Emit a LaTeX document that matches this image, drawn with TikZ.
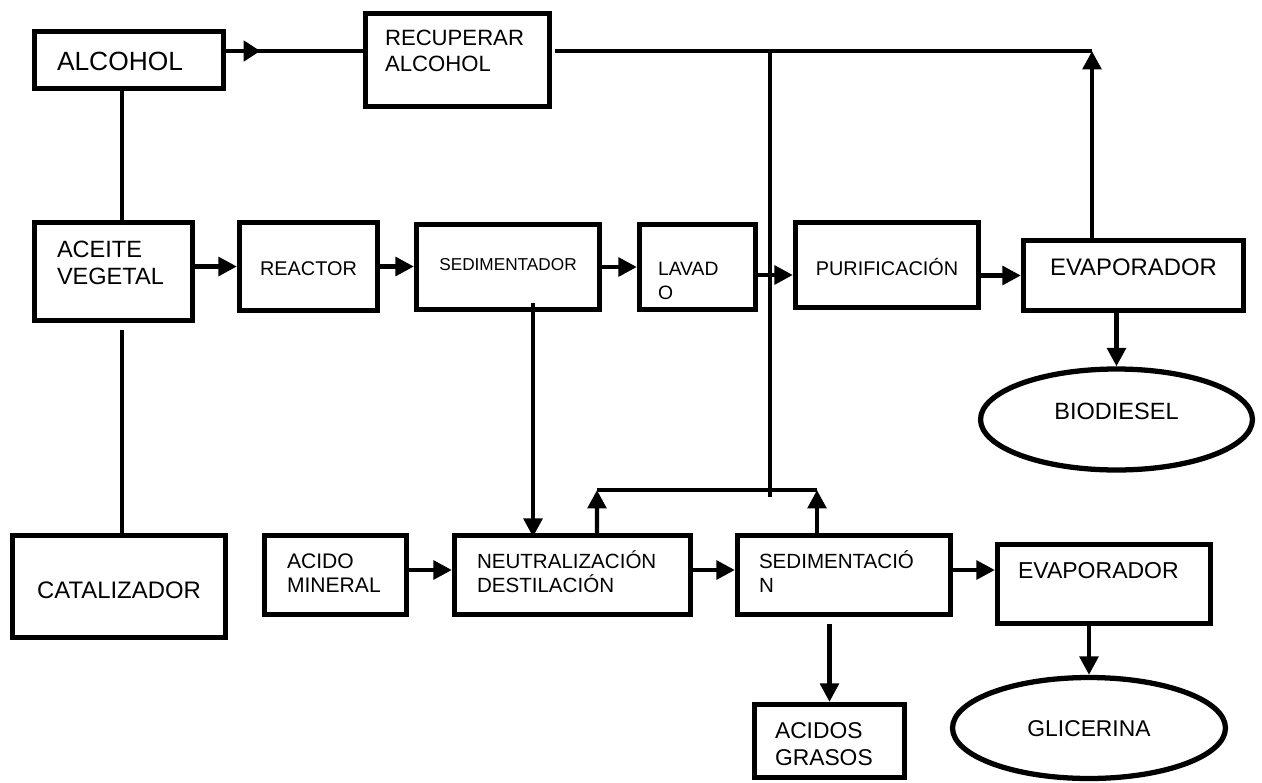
\documentclass[tikz,border=0pt]{standalone}
\usepackage{fontspec}
\setmainfont{Liberation Sans}
\usetikzlibrary{arrows.meta,calc,shapes.geometric,decorations.markings}

\tikzset{
  blk/.style={draw, line width=3pt, inner sep=0pt, text height=0pt, text depth=0pt},
  oval/.style={blk, ellipse},
  conn/.style={line width=2.5pt},
  flow/.style={conn, -{Triangle[length=10.5pt,width=10.5pt]}},
  midflow/.style={conn, postaction={decorate},
    decoration={markings, mark=at position #1 with {\arrow{Triangle[length=9.5pt,width=11.5pt]}}}},
}

\begin{document}
\begin{tikzpicture}[x=0.02cm, y=-0.02cm]
	%%%%% START %%%%%
	\useasboundingbox (0,0) rectangle (1262,782);
	
	\node[blk, minimum width=3.78cm, minimum height=1.14cm, text width=2.88cm, align=left, text height=0.4cm, font=\fontsize{15}{17}\selectfont] (alc) at (129,60) {ALCOHOL};
	\node[blk, minimum width=3.68cm, minimum height=1.86cm, text width=2.9cm, align=left, text depth=0.6cm, font=\fontsize{12.6}{14.8}\selectfont] (rec) at (457.5,60) {RECUPERAR\\ALCOHOL};
	
	\node[blk, minimum width=3.16cm, minimum height=1.96cm, text width=2.26cm, align=left, text depth=0.58cm, font=\fontsize{13.4}{15.4}\selectfont] (ace) at (113.5,271.5) {ACEITE\\VEGETAL};
	\node[blk, minimum width=2.76cm, minimum height=1.76cm, text height=0.34cm, font=\fontsize{11.3}{13}\selectfont] (reac) at (308.5,266.5) {REACTOR};
	\node[blk, minimum width=3.66cm, minimum height=1.7cm, text height=0.12cm, font=\fontsize{9.8}{11.5}\selectfont] (sedr) at (508,267) {SEDIMENTADOR};
	\node[blk, minimum width=2.32cm, minimum height=1.7cm, text width=1.58cm, align=left, text height=0.32cm, font=\fontsize{11}{13.7}\selectfont] (lav) at (697.5,267) {LAVAD\\O};
	\node[blk, minimum width=3.66cm, minimum height=1.7cm, text height=0.4cm, font=\fontsize{11.3}{13}\selectfont] (pur) at (887,265) {PURIFICACIÓN};
	\node[blk, minimum width=4.4cm, minimum height=1.4cm, font=\fontsize{13.6}{15.5}\selectfont] (evu) at (1133.5,275.5) {EVAPORADOR};
	\node[oval, minimum width=5.44cm, minimum height=2.02cm, font=\fontsize{13.4}{15.4}\selectfont] (bio) at (1116.5,419.5) {BIODIESEL};
	
	\node[blk, minimum width=4.26cm, minimum height=2.04cm, text height=0.46cm, font=\fontsize{13.6}{15.6}\selectfont] (cat) at (119,586.5) {CATALIZADOR};
	\node[blk, minimum width=2.84cm, minimum height=1.58cm, text width=1.94cm, align=left, text depth=0.28cm, font=\fontsize{12}{13.7}\selectfont] (acm) at (335.5,575) {ACIDO\\MINERAL};
	\node[blk, minimum width=4.72cm, minimum height=1.58cm, text width=3.82cm, align=left, text depth=0.28cm, font=\fontsize{11.7}{13.7}\selectfont] (neu) at (572.5,575) {NEUTRALIZACIÓN\\DESTILACIÓN};
	\node[blk, minimum width=4.26cm, minimum height=1.58cm, text width=3.4cm, align=left, text depth=0.28cm, font=\fontsize{11.7}{14.2}\selectfont] (sedn) at (844,575) {SEDIMENTACIÓ\\N};
	\node[blk, minimum width=4.26cm, minimum height=1.58cm, text width=3.44cm, align=left, text depth=0.24cm, font=\fontsize{13.1}{15}\selectfont] (evl) at (1104,584) {EVAPORADOR};
	\node[blk, minimum width=3cm, minimum height=1.46cm, text width=2.18cm, align=left, text depth=0.12cm, font=\fontsize{13}{15.4}\selectfont] (acg) at (829.5,741) {ACIDOS\\GRASOS};
	\node[oval, minimum width=5.46cm, minimum height=2.02cm, text height=0.32cm, font=\fontsize{13}{15}\selectfont] (gli) at (1089,728) {GLICERINA};
	
	\coordinate (ax) at (122,0);
	\coordinate (rt) at (1092,51);
	\coordinate (rv) at (770,51);
	\coordinate (rvb) at (770,497);
	\coordinate (retA) at (597,490);
	\coordinate (retB) at (817,490);
	
	% alcohol line
	\draw[midflow=0.25] ($(alc.east)+(0,-9)$) -- ($(rec.west)+(0,-9)$);
	\draw[conn] ($(rec.east)+(3,-9)$) -- (rt);
	\draw[flow] (rt |- evu.north) -- (rt);
	\draw[conn] (rv) -- (rvb);
	\draw[conn] (alc.south -| ax) -- (ace.north -| ax);
	\draw[conn] ($(ace.south -| ax)+(0,7)$) -- (cat.north -| ax);
	
	% main line
	\draw[flow] (ace.east |- reac.west) -- (reac.west);
	\draw[flow] (reac.east) -- (sedr.west |- reac.east);
	\draw[flow] (sedr.east) -- (lav.west);
	\draw[flow] ($(lav.east)+(0,8)$) -- ($(pur.west)+(0,10)$);
	\draw[flow] (pur.east |- evu.west) -- (evu.west);
	\draw[flow] (bio.north |- evu.south) -- (bio.north);
	
	% glycerine line
	\draw[flow] ($(sedr.south)+(25,-9)$) -- ($(neu.north)+(-39.5,4)$);
	\draw[flow] ($(acm.east)+(0,-5)$) -- ($(neu.west)+(0,-5)$);
	\draw[flow] ($(neu.east)+(0,-5)$) -- ($(sedn.west)+(0,-5)$);
	\draw[flow] ($(sedn.east)+(0,-5)$) -- ($(evl.west)+(0,-14)$);
	\draw[flow] ($(neu.north)+(24.5,5)$) -- (retA);
	\draw[flow] ($(sedn.north)+(-27,5)$) -- (retB);
	\draw[conn] (retA) -- (retB);
	\draw[flow] ($(acg.north |- sedn.south)+(0,7)$) -- (acg.north);
	\draw[flow] (gli.north |- evl.south) -- (gli.north);
	
	%%%%% END %%%%%
\end{tikzpicture}
\end{document}
